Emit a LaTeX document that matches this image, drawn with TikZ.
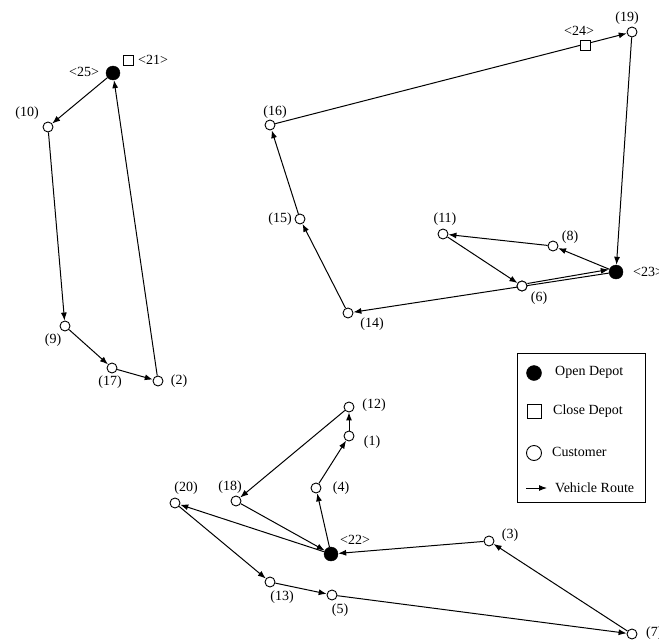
\documentclass[tikz,border=0pt]{standalone}
\usepackage{fontspec}
\setmainfont{Liberation Serif}
\usetikzlibrary{arrows.meta}
\begin{document}
\begin{tikzpicture}[x=1pt,y=-1pt,
  cust/.style={circle,draw,fill=white,line width=0.9pt,minimum size=10pt,inner sep=0pt},
  odep/.style={circle,draw,fill=black,minimum size=14pt,inner sep=0pt},
  cdep/.style={rectangle,draw,fill=white,line width=0.8pt,minimum size=10pt,inner sep=0pt},
  lbl/.style={inner sep=0pt,font=\fontsize{14}{16}\selectfont},
  route/.style={line width=1pt,-{Latex[length=8pt,width=6pt]}},
  legtext/.style={inner sep=0pt,anchor=west,font=\fontsize{14}{16}\selectfont}]
\useasboundingbox (0,0) rectangle (659,640);
% route of depot 25
\node[odep] (n25) at (113,73) {};
\node[cdep] (n21) at (128,60) {};
\node[cust] (n10) at (48,127) {};
\node[cust] (n9) at (65,326) {};
\node[cust] (n17) at (112,368) {};
\node[cust] (n2) at (158,381) {};
% route of depot 23
\node[odep] (n23) at (616,272) {};
\node[cdep] (n24) at (585,45) {};
\node[cust] (n19) at (632,32) {};
\node[cust] (n16) at (270,125) {};
\node[cust] (n15) at (300,219) {};
\node[cust] (n11) at (443,234) {};
\node[cust] (n8) at (553,246) {};
\node[cust] (n6) at (522,286) {};
\node[cust] (n14) at (348,313) {};
% route of depot 22
\node[odep] (n22) at (331,554) {};
\node[cust] (n12) at (349,407) {};
\node[cust] (n1) at (349,436) {};
\node[cust] (n4) at (316,488) {};
\node[cust] (n18) at (236,501) {};
\node[cust] (n20) at (175,503) {};
\node[cust] (n3) at (489,541) {};
\node[cust] (n13) at (270,582) {};
\node[cust] (n5) at (332,595) {};
\node[cust] (n7) at (632,634) {};
% routes
\draw[route] (n25) -- (n10);
\draw[route] (n10) -- (n9);
\draw[route] (n9) -- (n17);
\draw[route] (n17) -- (n2);
\draw[route] (n2) -- (n25);
\draw[route] (n16) -- (n19);
\draw[route] (n19) -- (n23);
\draw[route] (n23) -- (n8);
\draw[route] (n8) -- (n11);
\draw[route] (n11) -- (n6);
\draw[route] ([yshift=2.5pt]n6.east) -- ([yshift=2.5pt]n23.west);
\draw[route] (n23) -- (n14);
\draw[route] (n14) -- (n15);
\draw[route] (n15) -- (n16);
\draw[route] (n22) -- (n4);
\draw[route] (n4) -- (n1);
\draw[route] (n1) -- (n12);
\draw[route] (n12) -- (n18);
\draw[route] (n18) -- (n22);
\draw[route] (n22) -- (n20);
\draw[route] (n20) -- (n13);
\draw[route] (n13) -- (n5);
\draw[route] (n5) -- (n7);
\draw[route] (n7) -- (n3);
\draw[route] (n3) -- (n22);
% redraw nodes on top
\node[cust] at (n6) {};
\node[cdep] at (n24) {};
% labels
\node[lbl] (l25) at (84,72) {<25>};
\node[lbl] (l21) at (153,60) {<21>};
\node[lbl] (l10) at (27,113) {(10)};
\node[lbl] (l9) at (53,340) {(9)};
\node[lbl] (l17) at (110,382) {(17)};
\node[lbl] (l2) at (179,381) {(2)};
\node[lbl] (l16) at (275,112) {(16)};
\node[lbl] (l24) at (579,31) {<24>};
\node[lbl] (l19) at (627,18) {(19)};
\node[lbl] (l15) at (280,219) {(15)};
\node[lbl] (l11) at (445,219) {(11)};
\node[lbl] (l8) at (570,237) {(8)};
\node[lbl,anchor=west] (l23) at (633,272) {<23>};
\node[lbl] (l6) at (539,298) {(6)};
\node[lbl] (l14) at (372,324) {(14)};
\node[lbl] (l12) at (374,405) {(12)};
\node[lbl] (l1) at (372,442) {(1)};
\node[lbl] (l4) at (341,488) {(4)};
\node[lbl] (l18) at (230,487) {(18)};
\node[lbl] (l20) at (186,488) {(20)};
\node[lbl] (l22) at (355,540) {<22>};
\node[lbl] (l3) at (510,535) {(3)};
\node[lbl] (l13) at (282,597) {(13)};
\node[lbl] (l5) at (340,610) {(5)};
\node[lbl,anchor=west] (l7) at (646,633) {(7)};
% legend
\node[draw,line width=0.9pt,minimum width=128pt,minimum height=149pt,inner sep=0pt] (legend) at (581,427.5) {};
\node[odep,minimum size=15pt] (lgopen) at (534,373) {};
\node[legtext] (lgopent) at (555,372) {Open Depot};
\node[cdep,minimum size=14pt] (lgclose) at (534,411) {};
\node[legtext] (lgcloset) at (553,411) {Close Depot};
\node[cust,minimum size=15pt] (lgcust) at (534,453) {};
\node[legtext] (lgcustt) at (552,452) {Customer};
\coordinate (lga) at (526,488);
\coordinate (lgb) at (547,488);
\draw[route] (lga) -- (lgb);
\node[legtext] (lgroutet) at (555,488) {Vehicle Route};
\end{tikzpicture}
\end{document}
